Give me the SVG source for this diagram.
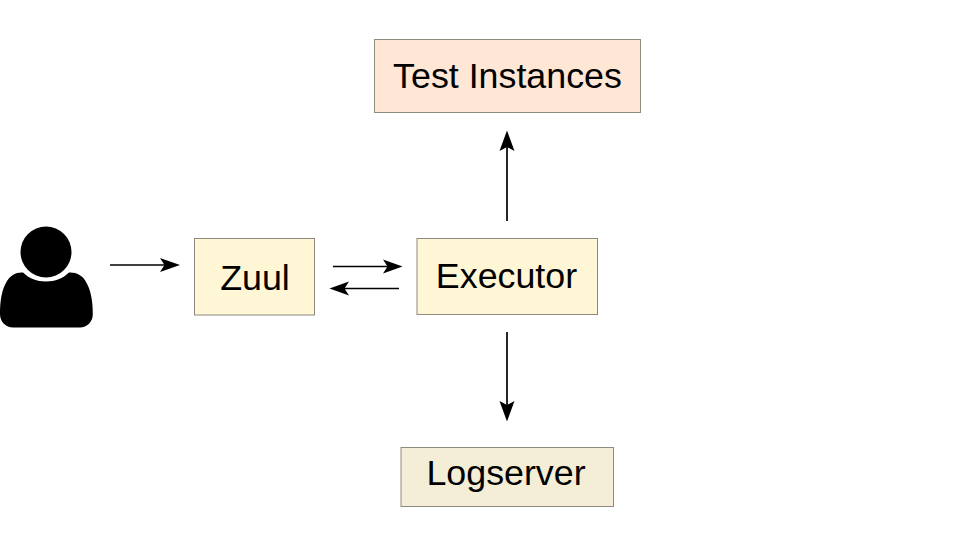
<svg xmlns="http://www.w3.org/2000/svg" width="973" height="548" viewBox="0 0 973 548">
<defs>
<style>
.box{stroke:#8f8a80;stroke-width:1}
.lbl{font-family:"Liberation Sans",Arial,sans-serif;font-size:35.8px;fill:#000;text-anchor:middle}
.c{stroke:#000;stroke-width:1.7;fill:none}
.h{fill:#000;stroke:none}
</style>
</defs>
<rect width="973" height="548" fill="#fff"/>
<g id="user">
<circle cx="46" cy="252" r="25.5" fill="#000"/>
<path d="M23 272.500C29 278.500 37 281.500 46 281.500C55 281.500 63 278.500 69 272.500C76 272 82 275 85.500 281C90.500 289 92.800 300 92.800 314C92.800 322 87 327.500 80 327.500L13 327.500C6 327.500 0 322 0 314C0 300 2 289 7 281C11 275 16 272 23 272.500Z" fill="#000"/>
</g>
<g id="test-instances">
<rect class="box" x="374.500" y="39.500" width="266" height="73" fill="#ffe6d5"/>
<text class="lbl" x="507.500" y="88">Test Instances</text>
</g>
<g id="zuul">
<rect class="box" x="194.500" y="238.500" width="120" height="76.500" fill="#fff6d5"/>
<text class="lbl" x="255" y="290">Zuul</text>
</g>
<g id="executor">
<rect class="box" x="417" y="238.500" width="180.500" height="76" fill="#fff6d5"/>
<text class="lbl" x="506.500" y="288">Executor</text>
</g>
<g id="logserver">
<rect class="box" x="401" y="447.500" width="212.500" height="59" fill="#f4eed7"/>
<text class="lbl" x="506" y="485">Logserver</text>
</g>
<g id="connectors">
<path class="c" d="M110 265H165"/>
<path class="h" d="M180 265L160 258L164.500 265L160 272Z"/>
<path class="c" d="M333 266.500H388"/>
<path class="h" d="M402.500 266.500L383 259.500L387.500 266.500L383 273.500Z"/>
<path class="c" d="M399 288.500H344"/>
<path class="h" d="M329.500 288.500L349 281.500L344.500 288.500L349 295.500Z"/>
<path class="c" d="M507 221V146"/>
<path class="h" d="M507 130.500L499.500 151L507 147L514.500 151Z"/>
<path class="c" d="M507 332V406"/>
<path class="h" d="M507 421.500L499.500 401L507 405L514.500 401Z"/>
</g>
</svg>
